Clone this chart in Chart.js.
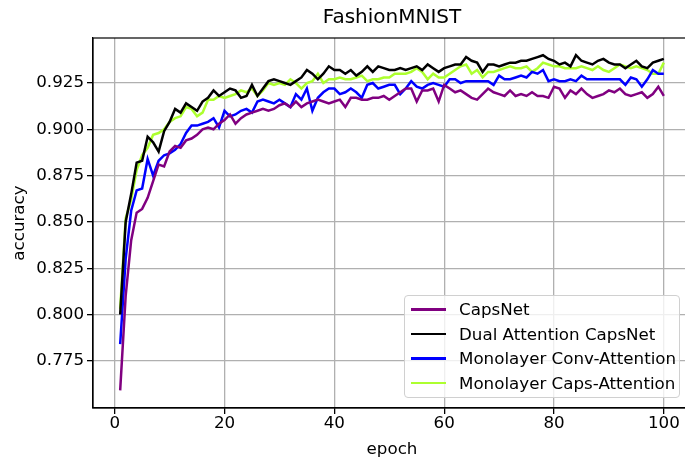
<!DOCTYPE html>
<html lang="en">
<head>
    <meta charset="UTF-8">
    <title>FashionMNIST</title>
    <style>
        body {
            margin: 0;
            background: #fff;
            font-family: "DejaVu Sans", sans-serif;
        }
        .frame {
            position: relative;
            width: 685px;
            height: 460px;
            overflow: hidden;
        }
        .legend {
            position: absolute;
            left: 404px;
            top: 295px;
            width: 274px;
            padding: 1px 0 2px 0;
            background: rgba(255, 255, 255, 0.8);
            border: 1px solid #d0d0d0;
            border-radius: 4px;
            font-size: 16.7px;
            color: #000;
            white-space: nowrap;
        }
        .legend .row {
            display: flex;
            align-items: center;
            height: 24.5px;
        }
        .legend .swatch {
            flex: none;
            width: 35px;
            height: 2.5px;
            margin: 0 13px 0 6px;
        }
    </style>
    <script src="https://cdn.jsdelivr.net/npm/chart.js@4"></script>
</head>
<body>
    <div class="frame">
        <canvas id="chart" width="692" height="460"></canvas>
        <div class="legend" id="legend"></div>
    </div>

    <script>
        // epochs 1..100
        const epochs = Array.from({length: 100}, (_, i) => i + 1);

        const capsNet = [
            0.759, 0.810, 0.840, 0.855, 0.857, 0.863, 0.872, 0.881, 0.880, 0.888,
            0.891, 0.890, 0.894, 0.895, 0.897, 0.900, 0.901, 0.900, 0.903, 0.905,
            0.908, 0.903, 0.906, 0.908, 0.909, 0.910, 0.911, 0.910, 0.911, 0.913,
            0.914, 0.912, 0.915, 0.912, 0.914, 0.915, 0.916, 0.915, 0.914, 0.915,
            0.916, 0.912, 0.917, 0.917, 0.916, 0.916, 0.917, 0.917, 0.918, 0.916,
            0.918, 0.920, 0.922, 0.922, 0.915, 0.921, 0.921, 0.922, 0.915, 0.924,
            0.922, 0.920, 0.921, 0.919, 0.917, 0.916, 0.919, 0.922, 0.920, 0.919,
            0.918, 0.921, 0.918, 0.919, 0.918, 0.920, 0.918, 0.918, 0.917, 0.923,
            0.922, 0.917, 0.921, 0.919, 0.922, 0.919, 0.917, 0.918, 0.919, 0.921,
            0.920, 0.922, 0.919, 0.918, 0.919, 0.920, 0.917, 0.919, 0.923, 0.918
        ];
        const dualAttention = [
            0.800, 0.850, 0.865, 0.882, 0.883, 0.896, 0.893, 0.888, 0.899, 0.904,
            0.911, 0.909, 0.914, 0.912, 0.910, 0.915, 0.917, 0.921, 0.918, 0.920,
            0.922, 0.921, 0.917, 0.918, 0.924, 0.918, 0.922, 0.926, 0.927, 0.926,
            0.925, 0.924, 0.926, 0.928, 0.932, 0.930, 0.927, 0.930, 0.934, 0.932,
            0.932, 0.930, 0.932, 0.929, 0.931, 0.934, 0.931, 0.934, 0.933, 0.932,
            0.932, 0.933, 0.932, 0.933, 0.934, 0.932, 0.935, 0.933, 0.931, 0.933,
            0.934, 0.935, 0.935, 0.939, 0.937, 0.936, 0.931, 0.935, 0.935, 0.934,
            0.935, 0.936, 0.936, 0.937, 0.937, 0.938, 0.939, 0.940, 0.938, 0.937,
            0.935, 0.936, 0.934, 0.940, 0.937, 0.936, 0.935, 0.937, 0.938, 0.936,
            0.935, 0.935, 0.933, 0.935, 0.937, 0.934, 0.933, 0.936, 0.937, 0.938
        ];
        const convAttention = [
            0.784, 0.830, 0.856, 0.867, 0.868, 0.884, 0.875, 0.883, 0.886, 0.887,
            0.889, 0.892, 0.898, 0.902, 0.902, 0.903, 0.904, 0.906, 0.901, 0.910,
            0.907, 0.908, 0.910, 0.911, 0.909, 0.915, 0.916, 0.915, 0.914, 0.916,
            0.914, 0.912, 0.919, 0.916, 0.922, 0.910, 0.917, 0.920, 0.922, 0.922,
            0.919, 0.920, 0.922, 0.920, 0.917, 0.924, 0.925, 0.922, 0.923, 0.924,
            0.924, 0.919, 0.922, 0.926, 0.923, 0.922, 0.924, 0.925, 0.924, 0.923,
            0.927, 0.927, 0.925, 0.926, 0.926, 0.926, 0.926, 0.926, 0.924, 0.929,
            0.927, 0.927, 0.928, 0.929, 0.928, 0.931, 0.930, 0.932, 0.926, 0.927,
            0.926, 0.926, 0.927, 0.926, 0.929, 0.927, 0.927, 0.927, 0.927, 0.927,
            0.927, 0.927, 0.924, 0.928, 0.927, 0.923, 0.927, 0.932, 0.930, 0.930
        ];
        const capsAttention = [
            0.803, 0.852, 0.862, 0.878, 0.886, 0.890, 0.897, 0.898, 0.900, 0.904,
            0.906, 0.907, 0.912, 0.911, 0.907, 0.909, 0.916, 0.916, 0.918, 0.917,
            0.918, 0.919, 0.921, 0.920, 0.922, 0.918, 0.921, 0.925, 0.924, 0.925,
            0.924, 0.927, 0.925, 0.922, 0.925, 0.926, 0.930, 0.925, 0.927, 0.927,
            0.928, 0.927, 0.927, 0.928, 0.929, 0.926, 0.927, 0.927, 0.928, 0.928,
            0.930, 0.930, 0.930, 0.931, 0.933, 0.931, 0.927, 0.930, 0.928, 0.928,
            0.930, 0.932, 0.934, 0.935, 0.930, 0.932, 0.928, 0.931, 0.931, 0.932,
            0.933, 0.934, 0.933, 0.933, 0.934, 0.931, 0.933, 0.936, 0.935, 0.934,
            0.934, 0.933, 0.933, 0.933, 0.934, 0.933, 0.932, 0.934, 0.932, 0.931,
            0.933, 0.935, 0.934, 0.933, 0.934, 0.933, 0.932, 0.930, 0.930, 0.936
        ];

        const seriesNames = ["CapsNet", "Dual Attention CapsNet", "Monolayer Conv-Attention", "Monolayer Caps-Attention"];
        const seriesColors = ["#800080", "#000000", "#0000ff", "#adff2f"];
        const seriesValues = [capsNet, dualAttention, convAttention, capsAttention];

        const xTicks = [0, 20, 40, 60, 80, 100];
        const yTicks = [0.775, 0.800, 0.825, 0.850, 0.875, 0.900, 0.925];
        const chartTitle = "FashionMNIST";

        const FONT = "'DejaVu Sans', sans-serif";

        // box round the axes + title centred over the plot area (like matplotlib)
        const frameBox = {
            id: "frameBox",
            afterDraw(chart) {
                const a = chart.chartArea;
                const ctx = chart.ctx;
                ctx.save();
                ctx.strokeStyle = "#000";
                ctx.lineWidth = 1.2;
                ctx.strokeRect(a.left, a.top, a.right - a.left, a.bottom - a.top);
                ctx.fillStyle = "#000";
                ctx.font = "20px " + FONT;
                ctx.textAlign = "center";
                ctx.textBaseline = "middle";
                ctx.fillText(chartTitle, (a.left + a.right) / 2, 18);
                ctx.restore();
            }
        };

        const datasets = seriesNames.map((name, k) => ({
            label: name,
            data: epochs.map((e, i) => ({x: e, y: seriesValues[k][i]})),
            borderColor: seriesColors[k],
            borderWidth: 2.5,
            pointRadius: 0,
            tension: 0,
            fill: false
        }));

        const grafico = new Chart(document.getElementById("chart"), {
            type: "line",
            data: {datasets: datasets},
            plugins: [frameBox],
            options: {
                responsive: false,
                animation: false,
                layout: {padding: {left: 0, right: 1, top: 38, bottom: 0}},
                plugins: {
                    legend: {display: false},
                    tooltip: {enabled: false},
                    title: {display: false}
                },
                scales: {
                    x: {
                        type: "linear",
                        min: -3.95,
                        max: 104.95,
                        afterBuildTicks: (scale) => { scale.ticks = xTicks.map(v => ({value: v})); },
                        afterFit: (scale) => { scale.height = 52; },
                        grid: {color: "#b0b0b0", lineWidth: 1.3, tickColor: "#000", tickLength: 6},
                        border: {display: true, color: "#000", width: 1.2},
                        ticks: {
                            color: "#000",
                            padding: 0,
                            maxRotation: 0,
                            font: {family: FONT, size: 16.7},
                            callback: (v) => String(v)
                        },
                        title: {
                            display: true,
                            text: "epoch",
                            color: "#000",
                            font: {family: FONT, size: 16.7},
                            padding: {top: 0, bottom: 0}
                        }
                    },
                    y: {
                        min: 0.7495,
                        max: 0.9493,
                        afterBuildTicks: (scale) => { scale.ticks = yTicks.map(v => ({value: v})); },
                        afterFit: (scale) => { scale.width = 93; },
                        grid: {color: "#b0b0b0", lineWidth: 1.3, tickColor: "#000", tickLength: 6},
                        border: {display: true, color: "#000", width: 1.2},
                        ticks: {
                            color: "#000",
                            padding: 3,
                            font: {family: FONT, size: 16.7},
                            callback: (v) => Number(v).toFixed(3)
                        },
                        title: {
                            display: true,
                            text: "accuracy",
                            color: "#000",
                            font: {family: FONT, size: 16.7},
                            padding: {top: 10, bottom: 0}
                        }
                    }
                }
            }
        });

        // legend inside the axes, lower right
        const legend = document.getElementById("legend");
        seriesNames.forEach((name, k) => {
            const row = document.createElement("div");
            row.className = "row";
            const sw = document.createElement("span");
            sw.className = "swatch";
            sw.style.background = seriesColors[k];
            const label = document.createElement("span");
            label.textContent = name;
            row.appendChild(sw);
            row.appendChild(label);
            legend.appendChild(row);
        });
    </script>
</body>
</html>
